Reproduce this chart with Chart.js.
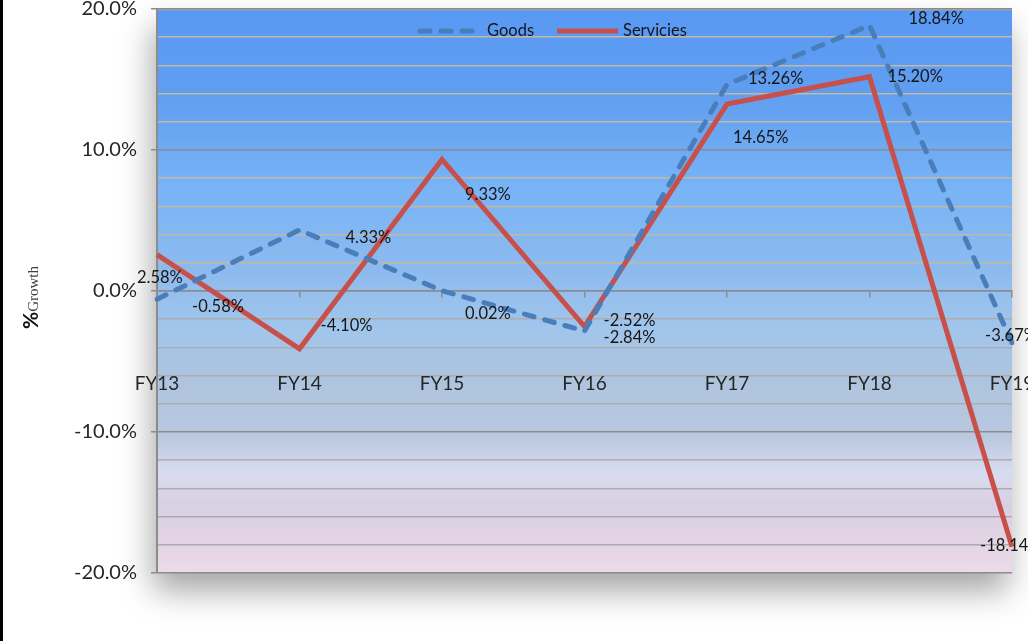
<!DOCTYPE html>
<html>
<head>
<meta charset="utf-8">
<script src="https://cdn.jsdelivr.net/npm/chart.js@4/dist/chart.umd.min.js"></script>
<style>
  html, body { margin: 0; padding: 0; background: #ffffff; }
  #c { display: block; }
</style>
</head>
<body>
<canvas id="c" width="1028" height="641"></canvas>
<script>
// ---- data ----
const categories = ['FY13', 'FY14', 'FY15', 'FY16', 'FY17', 'FY18', 'FY19'];
const goods = [-0.58, 4.33, 0.02, -2.84, 14.65, 18.84, -3.67];
const services = [2.58, -4.10, 9.33, -2.52, 13.26, 15.20, -18.14];
const seriesNames = ['Goods', 'Servicies'];
const yTickValues = [-20, -10, 0, 10, 20];

// ---- label placement (offsets from each point: left edge dx, vertical centre dy) ----
const goodsLabelOffsets = [[35, 7], [46, 8], [23, 23], [19, 7], [6, 53], [39, -7], [-27, -7]];
const servicesLabelOffsets = [[-20, 23], [21, -23], [23, 35], [19, -6], [21, -25], [18, 0], [-32, -1]];

const FONT = 'Lato, "Open Sans", "DejaVu Sans", sans-serif';

const backgroundPlugin = {
  id: 'bg',
  beforeDraw(chart) {
    const { ctx, chartArea: a } = chart;
    ctx.save();
    // left frame line
    ctx.fillStyle = '#000000';
    ctx.fillRect(0, 0, 3, chart.height);
    const g = ctx.createLinearGradient(0, a.top, 0, a.bottom);
    g.addColorStop(0.00, 'rgb(88,153,244)');
    g.addColorStop(0.15, 'rgb(96,158,240)');
    g.addColorStop(0.32, 'rgb(120,180,246)');
    g.addColorStop(0.46, 'rgb(140,186,238)');
    g.addColorStop(0.56, 'rgb(160,197,236)');
    g.addColorStop(0.66, 'rgb(174,196,222)');
    g.addColorStop(0.76, 'rgb(186,200,224)');
    g.addColorStop(0.82, 'rgb(216,220,240)');
    g.addColorStop(0.88, 'rgb(216,208,226)');
    g.addColorStop(0.95, 'rgb(228,212,228)');
    g.addColorStop(1.00, 'rgb(236,220,234)');
    ctx.shadowColor = 'rgba(0,0,0,0.35)';
    ctx.shadowBlur = 30;
    ctx.shadowOffsetX = -4;
    ctx.shadowOffsetY = 18;
    ctx.fillStyle = g;
    ctx.fillRect(a.left, a.top, a.right - a.left, a.bottom - a.top);
    ctx.restore();
    // top border
    ctx.save();
    ctx.strokeStyle = 'rgb(190,175,150)';
    ctx.lineWidth = 1.5;
    ctx.beginPath();
    ctx.moveTo(a.left, a.top + 0.5);
    ctx.lineTo(a.right, a.top + 0.5);
    ctx.stroke();
    ctx.restore();
  }
};

const labelPlugin = {
  id: 'labels',
  afterDatasetsDraw(chart) {
    const { ctx } = chart;
    const offsets = [goodsLabelOffsets, servicesLabelOffsets];
    ctx.save();
    ctx.font = '16.5px ' + FONT;
    ctx.fillStyle = '#161616';
    ctx.textAlign = 'left';
    ctx.textBaseline = 'middle';
    chart.data.datasets.forEach((ds, di) => {
      const meta = chart.getDatasetMeta(di);
      meta.data.forEach((pt, i) => {
        const [dx, dy] = offsets[di][i];
        ctx.fillText(ds.data[i].toFixed(2) + '%', pt.x + dx, pt.y + dy);
      });
    });
    // legend
    const ly = 31;
    const items = [
      { x0: 420, x1: 480, tx: 487, ds: chart.data.datasets[0] },
      { x0: 557, x1: 618, tx: 623, ds: chart.data.datasets[1] }
    ];
    items.forEach(it => {
      ctx.save();
      ctx.strokeStyle = it.ds.borderColor;
      ctx.lineWidth = it.ds.borderWidth;
      ctx.lineCap = it.ds.borderCapStyle || 'butt';
      ctx.setLineDash(it.ds.borderDash || []);
      ctx.beginPath();
      ctx.moveTo(it.x0, ly);
      ctx.lineTo(it.x1, ly);
      ctx.stroke();
      ctx.restore();
      ctx.font = '16.5px ' + FONT;
      ctx.fillStyle = '#161616';
      ctx.fillText(it.ds.label, it.tx, ly);
    });
    // y axis title
    ctx.save();
    ctx.translate(38, 329);
    ctx.rotate(-Math.PI / 2);
    ctx.textAlign = 'left';
    ctx.textBaseline = 'alphabetic';
    ctx.font = 'bold 21px ' + FONT;
    ctx.fillStyle = '#111111';
    ctx.fillText('%', 0, 0);
    const w = ctx.measureText('%').width;
    ctx.font = '15px "Liberation Serif", "DejaVu Serif", serif';
    ctx.fillStyle = '#404040';
    ctx.fillText('Growth', w, 0);
    ctx.restore();
    ctx.restore();
  }
};

new Chart(document.getElementById('c'), {
  type: 'line',
  data: {
    labels: categories,
    datasets: [
      {
        label: seriesNames[0],
        data: goods,
        borderColor: '#4a7ebb',
        borderWidth: 5,
        borderDash: [10, 11],
        borderCapStyle: 'round',
        pointRadius: 0,
        tension: 0,
        fill: false
      },
      {
        label: seriesNames[1],
        data: services,
        borderColor: '#c8504a',
        borderWidth: 5,
        pointRadius: 0,
        tension: 0,
        fill: false
      }
    ]
  },
  options: {
    responsive: false,
    animation: false,
    devicePixelRatio: 1,
    layout: { padding: { top: 9, right: 16, bottom: 68, left: 0 }, autoPadding: false },
    plugins: { legend: { display: false }, tooltip: { enabled: false } },
    scales: {
      x: {
        type: 'category',
        offset: false,
        position: { y: 0 },
        grid: { display: true, drawOnChartArea: false, drawTicks: true, tickLength: 6, color: '#8c8c8c', lineWidth: 1.5 },
        border: { display: true, color: '#8c8c8c', width: 1.5 },
        ticks: { padding: 75, color: '#262626', font: { family: FONT, size: 19 }, maxRotation: 0, autoSkip: false },
        afterFit(scale) { scale.paddingLeft = 0; scale.paddingRight = 0; scale.paddingTop = 0; scale.paddingBottom = 0; }
      },
      y: {
        min: -20,
        max: 20,
        position: 'left',
        afterFit(scale) { scale.width = 157; scale.paddingTop = 0; scale.paddingBottom = 0; },
        afterBuildTicks(scale) {
          const t = [];
          for (let v = -20; v <= 20; v += 2) t.push({ value: v });
          scale.ticks = t;
        },
        grid: {
          color: c => (yTickValues.includes(c.tick.value) ? '#8c8c8c'
            : (c.tick.value > 0 ? 'rgb(196,184,160)' : 'rgb(172,172,174)')),
          lineWidth: 1.5,
          tickColor: c => (yTickValues.includes(c.tick.value) ? '#8c8c8c' : 'rgba(0,0,0,0)'),
          tickLength: 6,
          drawTicks: true
        },
        border: { display: true, color: '#8c8c8c', width: 2 },
        ticks: {
          padding: 14,
          color: '#262626',
          font: { family: FONT, size: 20 },
          callback: v => (yTickValues.includes(v) ? v.toFixed(1) + '%' : '')
        }
      }
    }
  },
  plugins: [backgroundPlugin, labelPlugin]
});
</script>
</body>
</html>
